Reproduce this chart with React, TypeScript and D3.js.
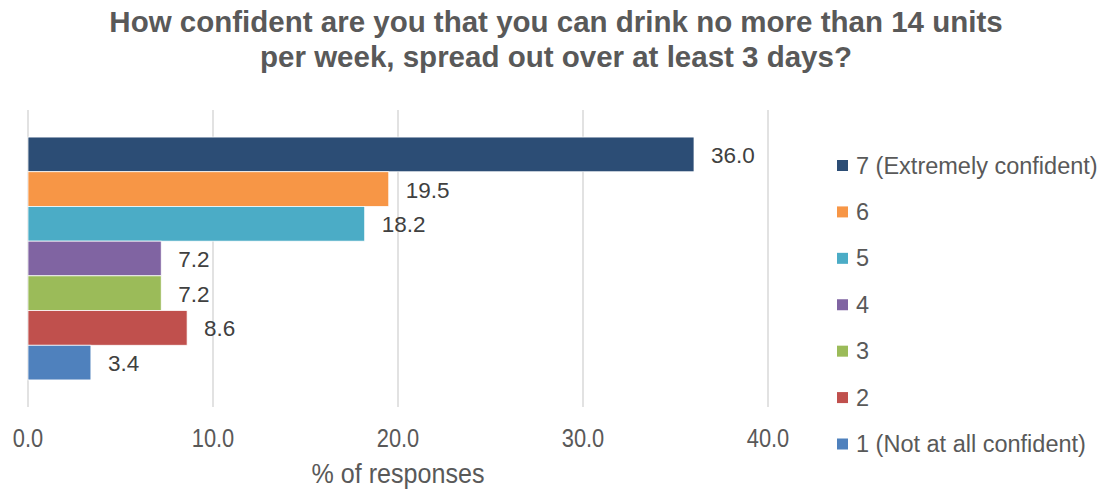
import React from "react";
import * as d3 from "d3";

const categories = ["7 (Extremely confident)", "6", "5", "4", "3", "2", "1 (Not at all confident)"];
const values = [36.0, 19.5, 18.2, 7.2, 7.2, 8.6, 3.4];
const colors = ["#2C4D75", "#F79646", "#4BACC6", "#8064A2", "#9BBB59", "#C0504D", "#4F81BD"];
const ticks = [0, 10, 20, 30, 40];
const titleLines = [
  "How confident are you that you can drink no more than 14 units",
  "per week, spread out over at least 3 days?",
];
const axisTitle = "% of responses";

export default function App() {
  const W = 1105, H = 491;
  const left = 28, right = 768, top = 110, bottom = 407;
  const x = d3.scaleLinear().domain([0, 40]).range([left, right]);
  const y = d3.scaleBand().domain(categories).range([top, bottom]).paddingOuter(0.78).paddingInner(0);
  const font = "'Liberation Sans', Arial, sans-serif";
  const legendY = d3.scalePoint().domain(categories).range([165.5, 444]);
  return (
    <svg width={W} height={H} style={{ position: "absolute", left: 0, top: 0, background: "#fff" }}>
      {titleLines.map((t, i) => (
        <text key={i} x={556} y={32 + i * 35} textAnchor="middle" fontFamily={font} fontWeight="bold" fontSize={29.5} fill="#595959">{t}</text>
      ))}
      {ticks.map((t) => (
        <g key={t}>
          <line x1={x(t)} x2={x(t)} y1={top} y2={bottom} stroke="#D9D9D9" strokeWidth={1.5} />
          <text transform={`translate(${x(t)},447) scale(0.95,1.1)`} textAnchor="middle" fontFamily={font} fontSize={23} fill="#595959">{t.toFixed(1)}</text>
        </g>
      ))}
      {categories.map((c, i) => (
        <g key={c}>
          <rect x={x(0)} y={y(c)!} width={x(values[i]) - x(0)} height={y.bandwidth()} fill={colors[i]} stroke="#fff" strokeWidth={0.75} />
          <text x={x(values[i]) + 17} y={y(c)! + y.bandwidth() / 2 + 8.5} fontFamily={font} fontSize={22.5} fill="#404040">{values[i].toFixed(1)}</text>
        </g>
      ))}
      <text transform={`translate(${x(20)},483) scale(0.93,1.05)`} textAnchor="middle" fontFamily={font} fontSize={27} fill="#595959">{axisTitle}</text>
      {categories.map((c, i) => (
        <g key={"l" + c}>
          <rect x={837} y={legendY(c)! - 5.5} width={11} height={11} fill={colors[i]} />
          <text x={856} y={legendY(c)! + 8} fontFamily={font} fontSize={23.5} fill="#595959">{c}</text>
        </g>
      ))}
    </svg>
  );
}
